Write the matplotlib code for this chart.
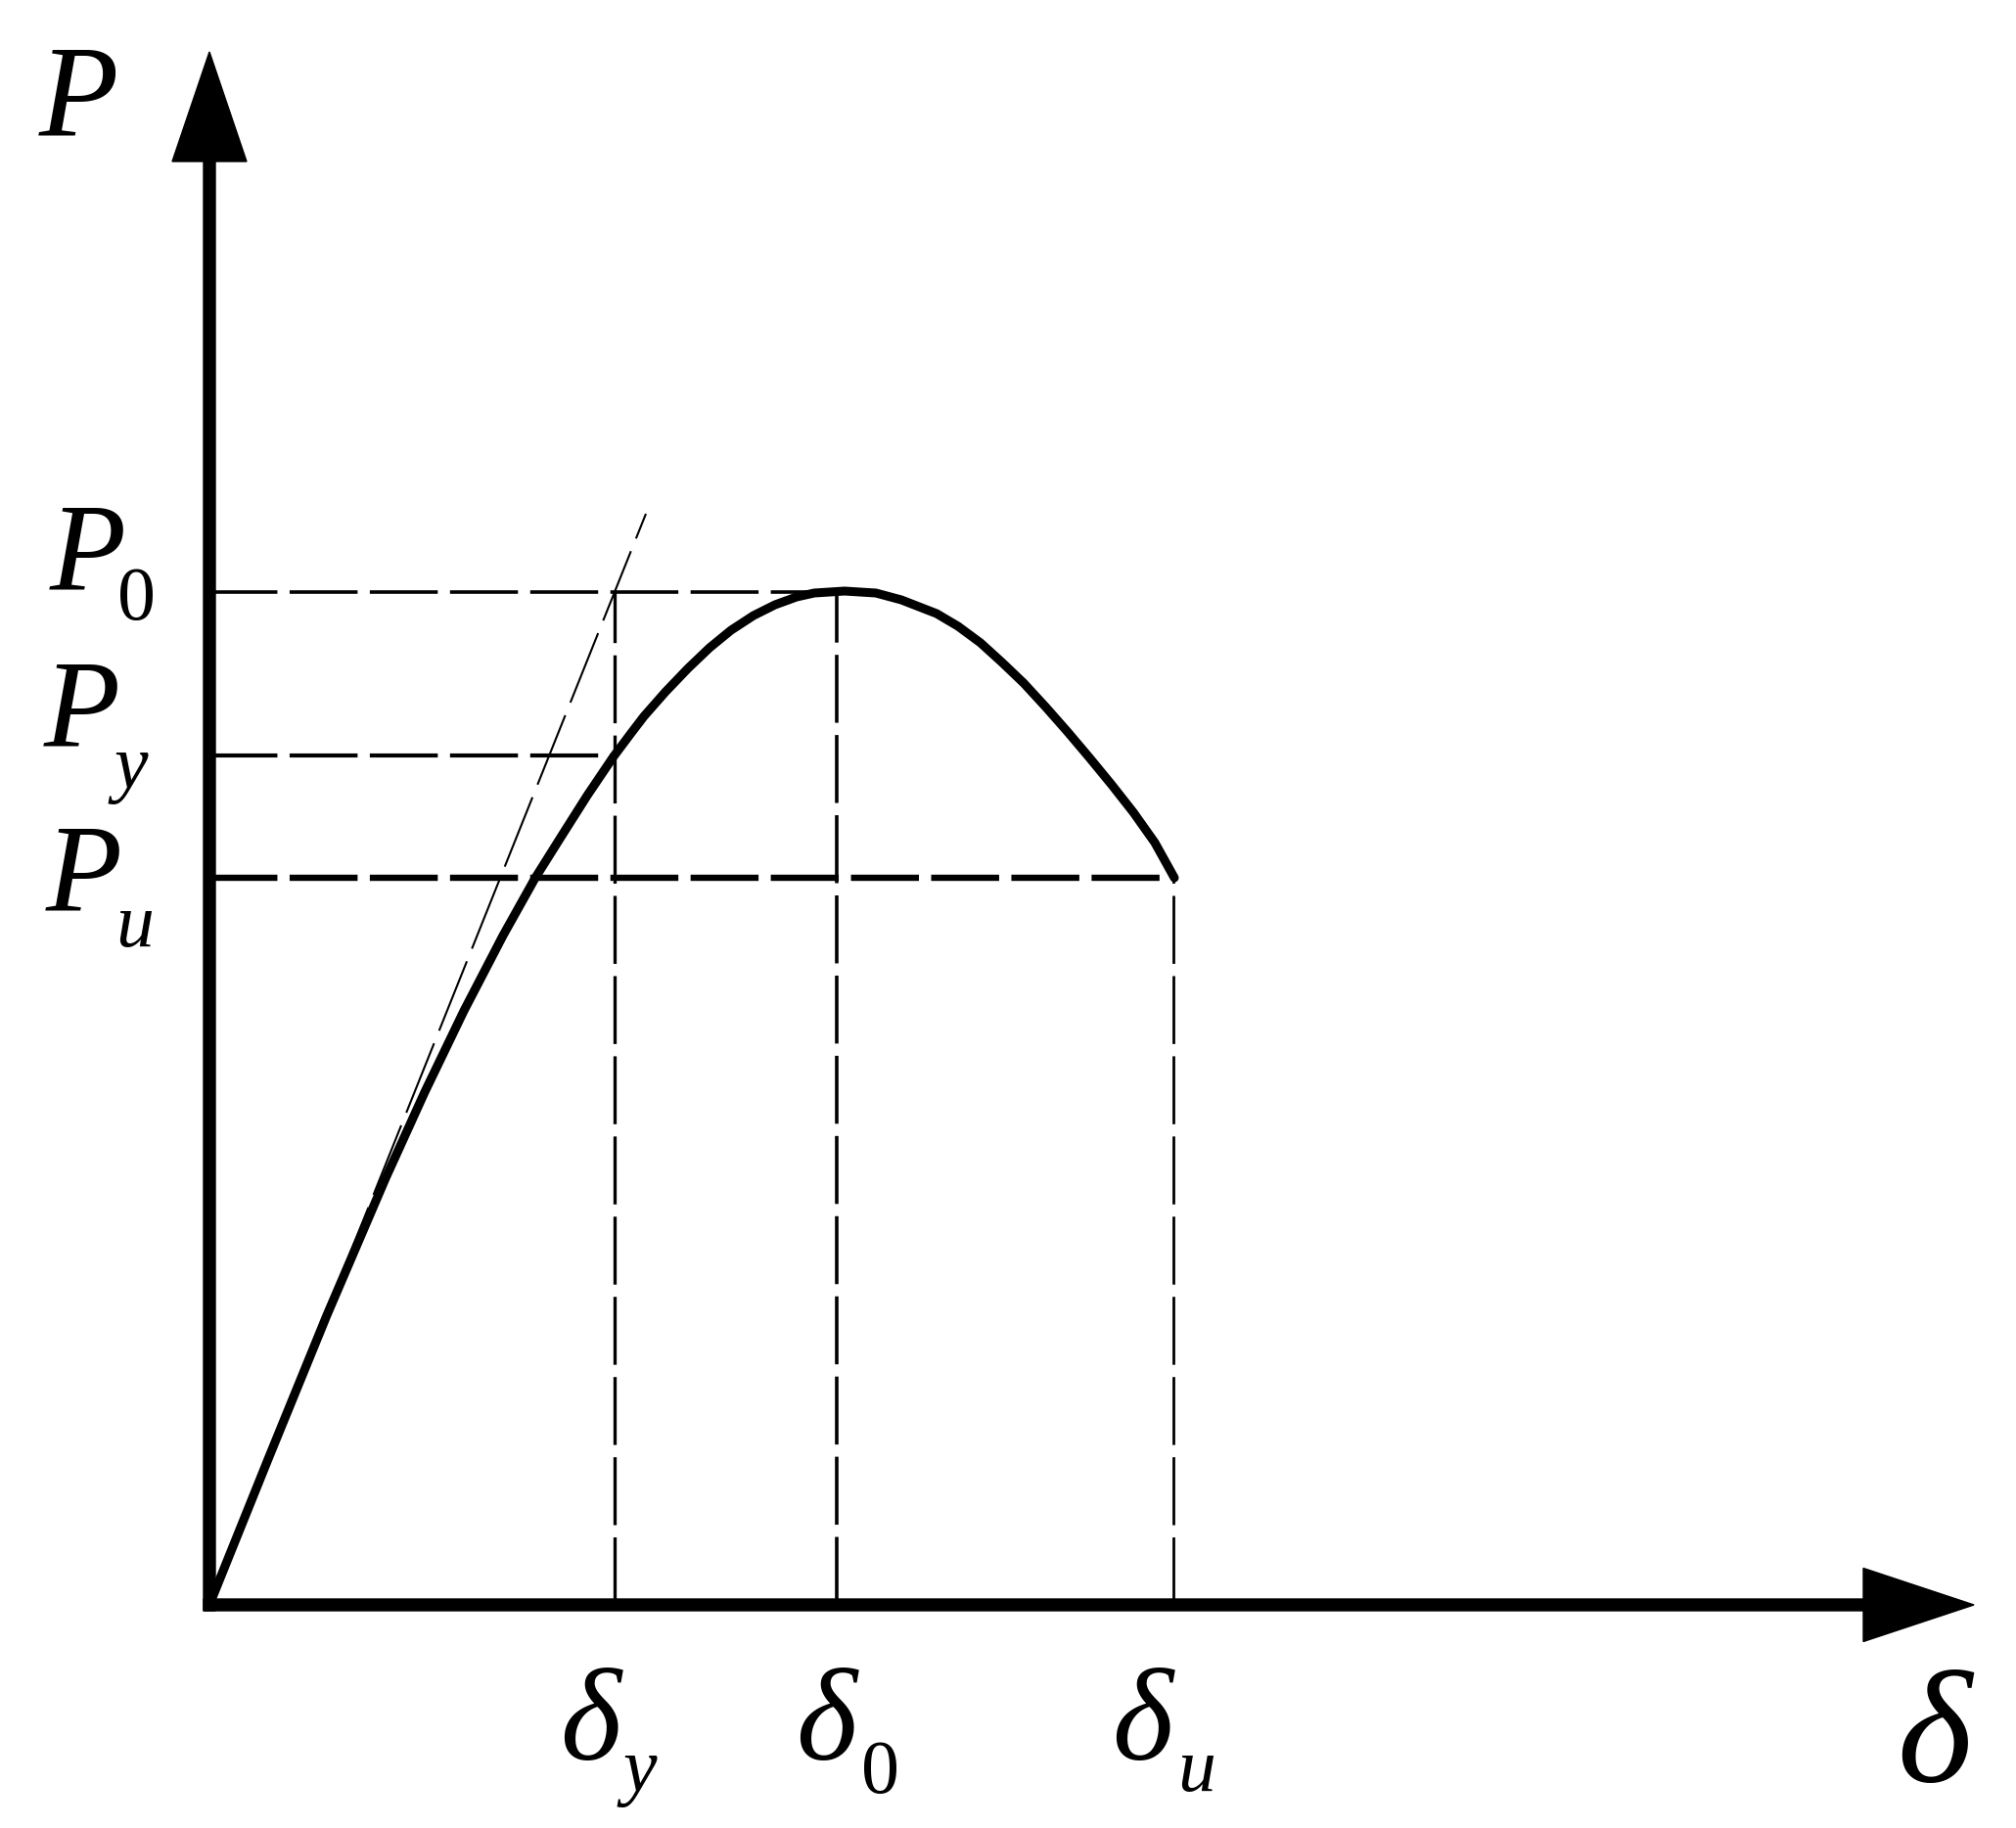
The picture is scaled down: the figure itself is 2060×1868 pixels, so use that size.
import matplotlib
matplotlib.use('Agg')
import matplotlib.pyplot as plt

plt.rcParams['lines.scale_dashes'] = False

# characteristic values (arbitrary units)
delta_y = 4.14
delta_0 = 6.41
delta_u = 9.85
P_0 = 10.35
P_y = 8.68
P_u = 7.43

# load-displacement curve
curve_x = [0, 0.60, 1.20, 1.80, 2.20, 2.60, 3.00, 3.33, 3.60, 3.86, 4.13, 4.31, 4.44,
           4.66, 4.89, 5.11, 5.33, 5.56, 5.78, 6.00, 6.18, 6.49, 6.81, 7.07, 7.43,
           7.65, 7.88, 8.10, 8.32, 8.55, 8.77, 8.99, 9.22, 9.44, 9.66, 9.86]
curve_y = [0, 1.49, 2.96, 4.36, 5.24, 6.07, 6.84, 7.43, 7.86, 8.27, 8.67, 8.91, 9.08,
           9.33, 9.57, 9.78, 9.96, 10.11, 10.22, 10.30, 10.34, 10.36, 10.34, 10.27, 10.13,
           10.00, 9.83, 9.63, 9.42, 9.17, 8.92, 8.66, 8.38, 8.10, 7.79, 7.43]

# initial tangent
tangent_x = [0, 4.46]
tangent_y = [0, 11.15]

fig = plt.figure(figsize=(20.6, 18.68), dpi=100)
ax = fig.add_axes([0, 0, 1, 1])
ax.set_xlim(-2.14, 18.46)
ax.set_ylim(-2.28, 16.40)
ax.axis('off')

dash = (50, 9)

# guide lines
ax.plot([0, delta_0], [P_0, P_0], color='black', lw=2.6, dashes=dash, zorder=2)
ax.plot([0, delta_y], [P_y, P_y], color='black', lw=3.0, dashes=dash, zorder=2)
ax.plot([0, delta_u], [P_u, P_u], color='black', lw=4.6, dashes=dash, zorder=2)
ax.plot([delta_y, delta_y], [0, P_0], color='black', lw=2.4, dashes=dash, zorder=2)
ax.plot([delta_0, delta_0], [0, P_0], color='black', lw=2.6, dashes=dash, zorder=2)
ax.plot([delta_u, delta_u], [0, P_u], color='black', lw=2.0, dashes=dash, zorder=2)
ax.plot(tangent_x, tangent_y, color='black', lw=1.5, dashes=(55, 10), zorder=2)

# curve
ax.plot(curve_x, curve_y, color='black', lw=6.5, solid_joinstyle='round',
        solid_capstyle='round', zorder=3)

# axes with arrows
ax.arrow(0, -0.06, 0, 15.93, width=0.12, head_width=0.76, head_length=1.12,
         length_includes_head=True, color='black', zorder=5)
ax.arrow(-0.06, 0, 18.09, 0, width=0.12, head_width=0.75, head_length=1.13,
         length_includes_head=True, color='black', zorder=5)

serif = 'Liberation Serif'
main_fs = 92
sub_fs = 56


def label(x, y, s, fs, italic=True):
    ax.text(x, y, s, fontsize=fs, family=serif, style='italic' if italic else 'normal',
            ha='left', va='baseline', color='black')


# axis names
label(-1.74, 15.03, 'P', 96)
label(17.24, -1.80, '\u03b4', 118)

# load labels
label(-1.63, P_0 + 0.03, 'P', main_fs)
label(-0.94, P_0 - 0.28, '0', sub_fs, italic=False)
label(-1.69, P_y + 0.09, 'P', main_fs)
label(-0.98, P_y - 0.33, 'y', sub_fs)
label(-1.67, P_u - 0.33, 'P', main_fs)
label(-0.96, P_u - 0.70, 'u', sub_fs)

# displacement labels
label(delta_y - 0.56, -1.58, '\u03b4', 96)
label(delta_y + 0.08, -1.90, 'y', sub_fs)
label(delta_0 - 0.42, -1.58, '\u03b4', 96)
label(delta_0 + 0.25, -1.92, '0', sub_fs, italic=False)
label(delta_u - 0.63, -1.58, '\u03b4', 96)
label(delta_u + 0.04, -1.90, 'u', sub_fs)

fig.savefig('out.png', dpi=100, facecolor='white')
